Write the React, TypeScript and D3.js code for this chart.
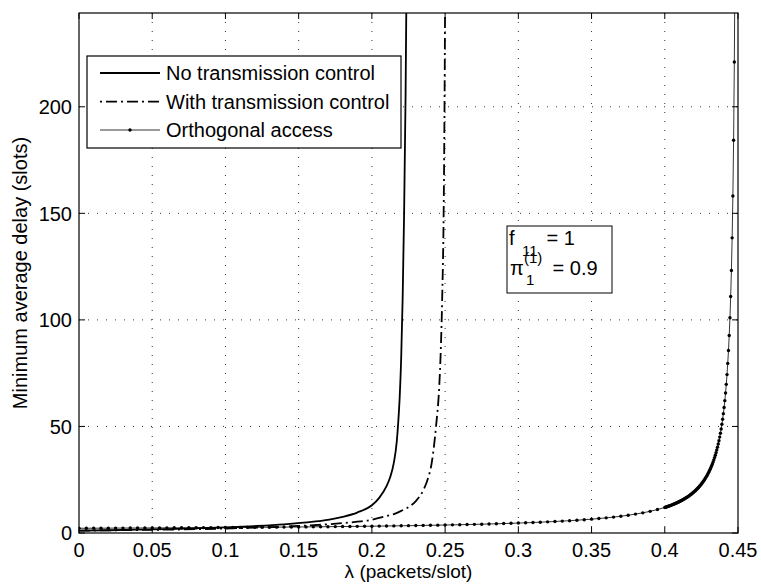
import React from "react";
import * as d3 from "d3";

const W = 761;
const H = 586;

const xTicks = [0, 0.05, 0.1, 0.15, 0.2, 0.25, 0.3, 0.35, 0.4, 0.45];
const xTickLabels = ["0", "0.05", "0.1", "0.15", "0.2", "0.25", "0.3", "0.35", "0.4", "0.45"];
const yTicks = [0, 50, 100, 150, 200];
const yTickLabels = ["0", "50", "100", "150", "200"];

const seriesNames = ["No transmission control", "With transmission control", "Orthogonal access"];

const noCtrlLambda = [0, 0.02, 0.04, 0.06, 0.08, 0.1, 0.12, 0.14, 0.16, 0.17, 0.18, 0.19, 0.2, 0.205, 0.21, 0.2124, 0.215, 0.217, 0.218, 0.219, 0.22, 0.221, 0.222, 0.223, 0.2238];
const noCtrlDelay = [1.11, 1.3, 1.55, 1.85, 2.2, 2.65, 3.25, 4.05, 5.3, 6.2, 7.6, 9.6, 13, 16.5, 22, 26, 33, 43, 52, 64, 82, 110, 150, 205, 270];

const ctrlLambda = [0, 0.04, 0.08, 0.12, 0.15, 0.17, 0.19, 0.2, 0.2076, 0.215, 0.22, 0.226, 0.23, 0.2351, 0.238, 0.2408, 0.2438, 0.246, 0.247, 0.248, 0.249, 0.2495, 0.25];
const ctrlDelay = [1.11, 1.4, 1.8, 2.5, 3.3, 4.1, 5.3, 6.2, 7.6, 8.9, 10.4, 12.6, 15, 20.1, 25, 32.7, 50, 69, 85, 110, 150, 190, 250];

const orthoLambda = [
  0, 0.005, 0.01, 0.015, 0.02, 0.025, 0.03, 0.035, 0.04, 0.045,
  0.05, 0.055, 0.06, 0.065, 0.07, 0.075, 0.08, 0.085, 0.09, 0.095,
  0.1, 0.105, 0.11, 0.115, 0.12, 0.125, 0.13, 0.135, 0.14, 0.145,
  0.15, 0.155, 0.16, 0.165, 0.17, 0.175, 0.18, 0.185, 0.19, 0.195,
  0.2, 0.205, 0.21, 0.215, 0.22, 0.225, 0.23, 0.235, 0.24, 0.245,
  0.25, 0.255, 0.26, 0.265, 0.27, 0.275, 0.28, 0.285, 0.29, 0.295,
  0.3, 0.305, 0.31, 0.315, 0.32, 0.325, 0.33, 0.335, 0.34, 0.345,
  0.35, 0.355, 0.36, 0.365, 0.37, 0.375, 0.38, 0.385, 0.39, 0.395,
  0.4,
  0.4005, 0.401, 0.4015, 0.402, 0.4025, 0.403, 0.4035, 0.404, 0.4045, 0.405,
  0.4055, 0.406, 0.4065, 0.407, 0.4075, 0.408, 0.4085, 0.409, 0.4095, 0.41,
  0.4105, 0.411, 0.4115, 0.412, 0.4125, 0.413, 0.4135, 0.414, 0.4145, 0.415,
  0.4155, 0.416, 0.4165, 0.417, 0.4175, 0.418, 0.4185, 0.419, 0.4195, 0.42,
  0.4205, 0.421, 0.4215, 0.422, 0.4225, 0.423, 0.4235, 0.424, 0.4245, 0.425,
  0.4255, 0.426, 0.4265, 0.427, 0.4275, 0.428, 0.4285, 0.429, 0.4295, 0.43,
  0.4305, 0.431, 0.4315, 0.432, 0.4325, 0.433, 0.4335, 0.434, 0.4345, 0.435,
  0.4355, 0.436, 0.4365, 0.437, 0.4375, 0.438, 0.4385, 0.439, 0.4395, 0.44,
  0.4405, 0.441, 0.4415, 0.442, 0.4425, 0.443, 0.4435, 0.444, 0.4445, 0.445,
  0.4455, 0.446, 0.4465, 0.447, 0.4475, 0.448,
];
const orthoDelay = [
  2.22, 2.24, 2.25, 2.26, 2.28, 2.29, 2.31, 2.33, 2.34, 2.36,
  2.38, 2.39, 2.41, 2.43, 2.45, 2.47, 2.49, 2.51, 2.53, 2.55,
  2.57, 2.59, 2.62, 2.64, 2.67, 2.69, 2.72, 2.75, 2.77, 2.8,
  2.83, 2.86, 2.9, 2.93, 2.96, 3.0, 3.04, 3.08, 3.12, 3.16,
  3.2, 3.24, 3.29, 3.34, 3.39, 3.44, 3.5, 3.56, 3.62, 3.68,
  3.75, 3.82, 3.89, 3.97, 4.06, 4.14, 4.24, 4.33, 4.44, 4.55,
  4.67, 4.79, 4.93, 5.07, 5.23, 5.4, 5.58, 5.78, 6.0, 6.24,
  6.5, 6.79, 7.11, 7.47, 7.88, 8.33, 8.86, 9.46, 10.17, 11.0,
  12.0,
  12.11, 12.22, 12.34, 12.46, 12.58, 12.7, 12.83, 12.96, 13.09, 13.22,
  13.36, 13.5, 13.64, 13.79, 13.94, 14.1, 14.25, 14.41, 14.58, 14.75,
  14.92, 15.1, 15.29, 15.47, 15.67, 15.86, 16.07, 16.28, 16.49, 16.71,
  16.94, 17.18, 17.42, 17.67, 17.92, 18.19, 18.46, 18.74, 19.03, 19.33,
  19.64, 19.97, 20.3, 20.64, 21.0, 21.37, 21.75, 22.15, 22.57, 23.0,
  23.45, 23.92, 24.4, 24.91, 25.44, 26.0, 26.58, 27.19, 27.83, 28.5,
  29.21, 29.95, 30.73, 31.56, 32.43, 33.35, 34.33, 35.38, 36.48, 37.67,
  38.93, 40.29, 41.74, 43.31, 45.0, 46.83, 48.83, 51.0, 53.38, 56.0,
  58.89, 62.11, 65.71, 69.75, 74.33, 79.57, 85.62, 92.67, 101.0, 111.0,
  123.2, 138.5, 158.1, 184.3, 221.0, 276.0,
];

const FONT = "'Liberation Sans', Arial, Helvetica, sans-serif";

export default function App() {
  const left = 79, right = 738, top = 13, bottom = 533;
  const x = d3.scaleLinear().domain([0, 0.45]).range([left, right]);
  const y = d3.scaleLinear().domain([0, 244]).range([bottom, top]);

  const pts = (xs: number[], ys: number[]) => xs.map((v, i) => [v, ys[i]] as [number, number]);
  const smooth = d3.line<[number, number]>().x(d => x(d[0])).y(d => y(d[1])).curve(d3.curveMonotoneX);
  const straight = d3.line<[number, number]>().x(d => x(d[0])).y(d => y(d[1]));

  const noCtrl = pts(noCtrlLambda, noCtrlDelay);
  const ctrl = pts(ctrlLambda, ctrlDelay);
  const ortho = pts(orthoLambda, orthoDelay);

  const tickLen = 6;
  const dashDot = "11,4,2,4";

  const legendRows = [73, 101.7, 130];

  return (
    <svg width={W} height={H} style={{ position: "absolute", left: 0, top: 0, background: "#fff" }} fontFamily={FONT}>
      <rect x={0} y={0} width={W} height={H} fill="#fff" />
      <defs>
        <clipPath id="plotclip">
          <rect x={left} y={top} width={right - left} height={bottom - top} />
        </clipPath>
      </defs>

      {/* grid */}
      <g stroke="#333" strokeWidth={1} strokeDasharray="1,8">
        {xTicks.slice(1, -1).map((t, i) => (
          <line key={"gx" + i} x1={x(t)} x2={x(t)} y1={top} y2={bottom} />
        ))}
        {yTicks.slice(1).map((t, i) => (
          <line key={"gy" + i} x1={left} x2={right} y1={y(t)} y2={y(t)} />
        ))}
      </g>

      {/* curves */}
      <g clipPath="url(#plotclip)" fill="none" stroke="#000">
        <path d={smooth(noCtrl) || ""} strokeWidth={1.8} />
        <path d={smooth(ctrl) || ""} strokeWidth={1.8} strokeDasharray={dashDot} />
        <path d={straight(ortho) || ""} strokeWidth={0.8} />
        {ortho.map((d, i) => (
          <circle key={"o" + i} cx={x(d[0])} cy={y(d[1])} r={1.7} fill="#000" stroke="none" />
        ))}
      </g>

      {/* axes box */}
      <rect x={left} y={top} width={right - left} height={bottom - top} fill="none" stroke="#000" strokeWidth={1.2} />

      {/* ticks */}
      <g stroke="#000" strokeWidth={1}>
        {xTicks.map((t, i) => (
          <g key={"tx" + i}>
            <line x1={x(t)} x2={x(t)} y1={bottom} y2={bottom - tickLen} />
            <line x1={x(t)} x2={x(t)} y1={top} y2={top + tickLen} />
          </g>
        ))}
        {yTicks.map((t, i) => (
          <g key={"ty" + i}>
            <line x1={left} x2={left + tickLen} y1={y(t)} y2={y(t)} />
            <line x1={right} x2={right - tickLen} y1={y(t)} y2={y(t)} />
          </g>
        ))}
      </g>

      {/* tick labels */}
      <g fontSize={20} fill="#000">
        {xTicks.map((t, i) => (
          <text key={"lx" + i} x={x(t)} y={557} textAnchor="middle">{xTickLabels[i]}</text>
        ))}
        {yTicks.map((t, i) => (
          <text key={"ly" + i} x={72} y={y(t)} dy="0.36em" textAnchor="end">{yTickLabels[i]}</text>
        ))}
      </g>

      {/* axis labels */}
      <text x={(left + right) / 2} y={578} textAnchor="middle" fontSize={19}>λ (packets/slot)</text>
      <text transform={`translate(27,${(top + bottom) / 2}) rotate(-90)`} textAnchor="middle" fontSize={20}>
        Minimum average delay (slots)
      </text>

      {/* legend */}
      <rect x={87} y={56} width={314} height={92} fill="#fff" stroke="#000" strokeWidth={1.2} />
      <line x1={100} x2={160} y1={legendRows[0]} y2={legendRows[0]} stroke="#000" strokeWidth={1.8} />
      <line x1={100} x2={160} y1={legendRows[1]} y2={legendRows[1]} stroke="#000" strokeWidth={1.8} strokeDasharray={dashDot} strokeDashoffset={15} />
      <line x1={100} x2={160} y1={legendRows[2]} y2={legendRows[2]} stroke="#000" strokeWidth={0.8} />
      <circle cx={130} cy={legendRows[2]} r={1.7} fill="#000" />
      {seriesNames.map((n, i) => (
        <text key={"lg" + i} x={166} y={legendRows[i]} dy="0.36em" fontSize={20}>{n}</text>
      ))}

      {/* annotation */}
      <rect x={507} y={226} width={105} height={67} fill="#fff" stroke="#000" strokeWidth={1} />
      <text x={509} y={245} fontSize={20}>f</text>
      <text x={522} y={256} fontSize={15}>11</text>
      <text x={541} y={245} fontSize={20}>{"\u00a0= 1"}</text>
      <text x={510} y={275} fontSize={20}>π</text>
      <text x={524} y={263} fontSize={15}>(1)</text>
      <text x={526} y={285} fontSize={15}>1</text>
      <text x={547} y={275} fontSize={20}>{"\u00a0= 0.9"}</text>
    </svg>
  );
}
